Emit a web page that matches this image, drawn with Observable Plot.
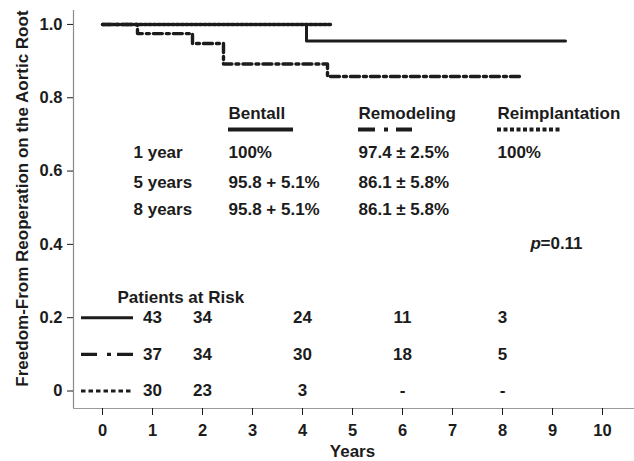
<!DOCTYPE html>
<html><head><meta charset="utf-8">
<script src="https://cdn.jsdelivr.net/npm/d3@7"></script>
<script src="https://cdn.jsdelivr.net/npm/@observablehq/plot@0.6"></script>
<style>
html,body{margin:0;padding:0;background:#fff;}
#chart{width:634px;height:461px;}
</style>
</head><body><div id="chart"></div>
<script>
// ---- data ----
const bentallTimes = [0, 4.08, 9.26];
const bentallSurv = [1.0, 0.955, 0.955];
const remodelingTimes = [0, 0.7, 1.8, 2.42, 4.5, 8.4];
const remodelingSurv = [1.0, 0.975, 0.948, 0.892, 0.858, 0.858];
const reimplTimes = [0, 4.56];
const reimplSurv = [1.0, 1.0];

const xTicks = [0,1,2,3,4,5,6,7,8,9,10];
const yTicks = [0, 0.2, 0.4, 0.6, 0.8, 1.0];

const groupNames = ["Bentall", "Remodeling", "Reimplantation"];
const rowLabels = ["1 year", "5 years", "8 years"];
const bentallRates = ["100%", "95.8 + 5.1%", "95.8 + 5.1%"];
const remodelingRates = ["97.4 ± 2.5%", "86.1 ± 5.8%", "86.1 ± 5.8%"];
const reimplRates = ["100%", "", ""];

const riskYears = [1, 2, 4, 6, 8];
const bentallRisk = ["43", "34", "24", "11", "3"];
const remodelingRisk = ["37", "34", "30", "18", "5"];
const reimplRisk = ["30", "23", "3", "-", "-"];

const pValue = "=0.11";

// ---- layout (not data) ----
const xDomain = [-0.58, 10.64];
const yDomain = [-0.0477, 1.038];
const ink = "#1c1c1c";
const dashDot = "9,4,3,4";
const dotted = "3,1.6";

const toRows = (ts, ss) => ts.map((t, i) => ({t, s: ss[i]}));
const bentall = toRows(bentallTimes, bentallSurv);
const remodeling = toRows(remodelingTimes, remodelingSurv);
const reimpl = toRows(reimplTimes, reimplSurv);

const colX = [2.52, 5.12, 7.9];
const rowY = [0.651, 0.569, 0.495];
const headerY = 0.757;
const sampleY = 0.7135;
const riskY = [0.2, 0.1, 0];

const tableCells = [];
rowLabels.forEach((r, i) => {
  tableCells.push({x: 0.62, y: rowY[i], text: r});
  tableCells.push({x: colX[0], y: rowY[i], text: bentallRates[i]});
  tableCells.push({x: colX[1], y: rowY[i], text: remodelingRates[i]});
  if (reimplRates[i]) tableCells.push({x: colX[2], y: rowY[i], text: reimplRates[i]});
});
groupNames.forEach((g, i) => tableCells.push({x: colX[i], y: headerY, text: g}));

const riskCells = [];
[bentallRisk, remodelingRisk, reimplRisk].forEach((arr, j) => {
  arr.forEach((v, i) => riskCells.push({x: riskYears[i], y: riskY[j], text: v}));
});

const txt = {fill: ink, fontSize: 17, fontWeight: "bold", fontFamily: "Liberation Sans, Arial, sans-serif"};

const chart = Plot.plot({
  width: 634, height: 461,
  marginLeft: 73, marginRight: 0, marginTop: 10, marginBottom: 53,
  x: {domain: xDomain},
  y: {domain: yDomain},
  style: {fontFamily: "Liberation Sans, Arial, sans-serif", fontSize: "16.5px", fontWeight: "bold", color: ink, background: "#fff"},
  marks: [
    Plot.ruleX([xDomain[0]], {stroke: "#8a8a8a", strokeWidth: 1.2}),
    Plot.ruleY([yDomain[0]], {stroke: "#9a9a9a", strokeWidth: 1.2}),
    Plot.axisY({ticks: yTicks, tickSize: 6, tickPadding: 5, label: null,
      tickFormat: d => d === 0 ? "0" : d.toFixed(1)}),
    Plot.axisX({ticks: xTicks, tickSize: 7, tickPadding: 9, label: null, tickFormat: d => String(d)}),
    Plot.text(["Years"], {x: 5, frameAnchor: "bottom", dy: 48, lineAnchor: "bottom", ...txt}),
    Plot.text(["Freedom-From Reoperation on the Aortic Root"], {x: xDomain[0], y: 0.525, dx: -51, rotate: -90, ...txt}),

    // curves
    Plot.line(remodeling, {x: "t", y: "s", curve: "step-after", stroke: ink, strokeWidth: 3.4, strokeDasharray: dashDot}),
    Plot.line(bentall, {x: "t", y: "s", curve: "step-after", stroke: ink, strokeWidth: 3}),
    Plot.line(reimpl, {x: "t", y: "s", curve: "step-after", stroke: ink, strokeWidth: 3.4, strokeDasharray: dotted}),

    // table
    Plot.text(tableCells, {x: "x", y: "y", text: "text", textAnchor: "start", ...txt}),
    Plot.ruleY([sampleY], {x1: 2.52, x2: 3.82, stroke: ink, strokeWidth: 4}),
    Plot.ruleY([sampleY], {x1: 5.12, x2: 6.2, stroke: ink, strokeWidth: 4, strokeDasharray: "17,9,4,8,17"}),
    Plot.ruleY([sampleY], {x1: 7.9, x2: 9.2, stroke: ink, strokeWidth: 4, strokeDasharray: "4,2.5"}),

    // p value
    Plot.text(["p"], {x: 8.56, y: 0.402, textAnchor: "start", ...txt, fontStyle: "italic"}),
    Plot.text([pValue], {x: 8.56, y: 0.402, dx: 10, textAnchor: "start", ...txt}),

    // patients at risk
    Plot.text(["Patients at Risk"], {x: 0.3, y: 0.255, textAnchor: "start", ...txt}),
    Plot.ruleY([riskY[0]], {x1: -0.42, x2: 0.62, stroke: ink, strokeWidth: 3}),
    Plot.ruleY([riskY[1]], {x1: -0.42, x2: 0.62, stroke: ink, strokeWidth: 3.2, strokeDasharray: "16,10,4,6,16"}),
    Plot.ruleY([riskY[2]], {x1: -0.42, x2: 0.62, stroke: ink, strokeWidth: 3.2, strokeDasharray: "4.5,3"}),
    Plot.text(riskCells, {x: "x", y: "y", text: "text", textAnchor: "middle", ...txt})
  ]
});
document.getElementById("chart").appendChild(chart);
</script>
</body></html>
